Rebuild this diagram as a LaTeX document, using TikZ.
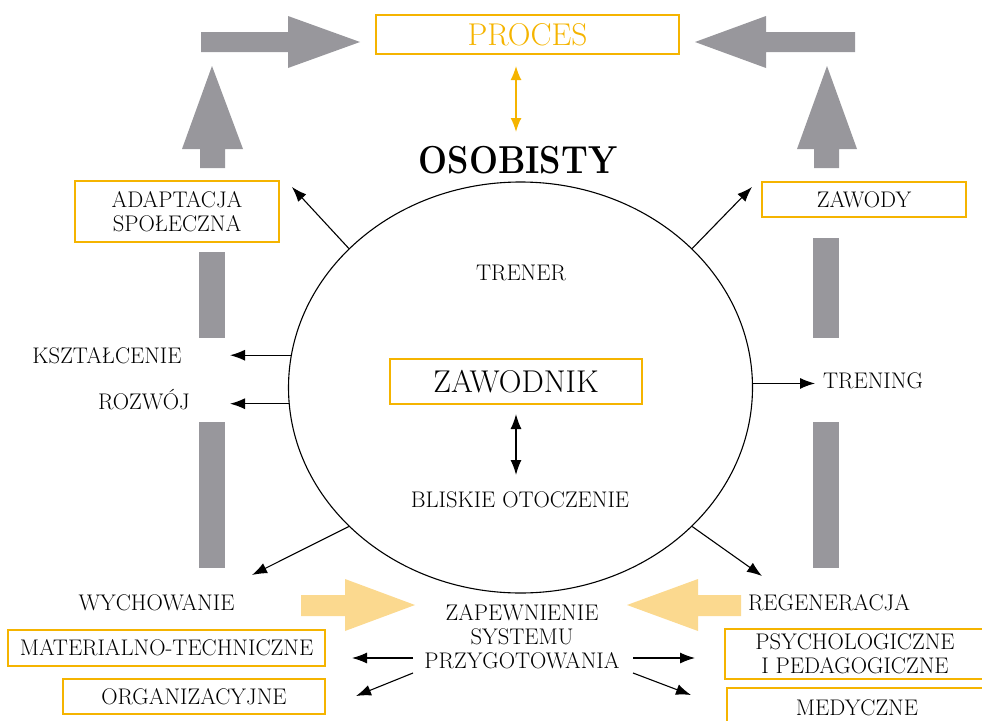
\documentclass[tikz,border=0pt]{standalone}
\usetikzlibrary{arrows.meta,shapes.geometric,positioning}
\definecolor{zolty}{HTML}{F5B400}
\definecolor{szary}{HTML}{98979C}
\definecolor{jasnyzolty}{HTML}{FBD98F}

\begin{document}
\begin{tikzpicture}[x=1pt,y=-1pt,>={Latex[length=15pt,width=11pt]},
  ramka/.style={draw=zolty,line width=1.2pt,align=center,inner sep=0pt,font=\fontsize{22.6}{24.5}\selectfont},
  napis/.style={anchor=base,align=center,font=\fontsize{22.6}{24}\selectfont},
  duzy/.style={font=\fontsize{31.5}{34}\selectfont},
  strz/.style={->,line width=1.1pt}]
\useasboundingbox (0,0) rectangle (982,720);

% wielkie strzalki
\fill[szary] (201,32) -- (288,32) -- (288,16) -- (360,42) -- (288,68) -- (288,52) -- (201,52) -- cycle;
\fill[szary] (855,32) -- (766,32) -- (766,16) -- (695,42) -- (766,68) -- (766,52) -- (855,52) -- cycle;
\fill[szary] (200,168) -- (200,149) -- (182,149) -- (212,66) -- (243,149) -- (225,149) -- (225,168) -- cycle;
\fill[szary] (814,168) -- (814,149) -- (797,149) -- (827,66) -- (857,149) -- (839,149) -- (839,168) -- cycle;
\fill[szary] (199,252) rectangle (225,338);
\fill[szary] (199,422) rectangle (225,568);
\fill[szary] (813,238) rectangle (839,338);
\fill[szary] (813,422) rectangle (839,568);
\fill[jasnyzolty] (301,595) -- (345,595) -- (345,579) -- (415,605) -- (345,631) -- (345,616) -- (301,616) -- cycle;
\fill[jasnyzolty] (741,595) -- (698,595) -- (698,579) -- (627,605) -- (698,631) -- (698,616) -- (741,616) -- cycle;

% srodek
\node[draw,ellipse,line width=1.1pt,inner sep=0pt,minimum width=464pt,minimum height=411pt] (krag) at (520.5,387.5) {};
\node[ramka,duzy,text=zolty,minimum width=303pt,minimum height=39pt] (proces) at (527.5,34.5) {PROCES};
\node[font=\fontsize{39}{44}\selectfont\bfseries,inner sep=0pt] (osobisty) at (518,160) {\scalebox{0.88}[1]{OSOBISTY}};
\node[napis] (trener) at (521,280) {TRENER};
\node[ramka,duzy,minimum width=252pt,minimum height=45pt] (zawodnik) at (516,381.5) {ZAWODNIK};
\node[napis] (otoczenie) at (520,507) {BLISKIE OTOCZENIE};

% otoczenie elipsy
\node[ramka,minimum width=204pt,minimum height=61pt] (adaptacja) at (177,211.5) {ADAPTACJA\\SPOŁECZNA};
\node[ramka,minimum width=204pt,minimum height=35pt] (zawody) at (864,199.5) {ZAWODY};
\node[napis] (ksztalcenie) at (107,363) {KSZTAŁCENIE};
\node[napis] (rozwoj) at (144,409) {ROZWÓJ};
\node[napis] (trening) at (873,388) {TRENING};
\node[napis] (wychowanie) at (156.5,610) {WYCHOWANIE};
\node[napis] (regeneracja) at (829,610) {REGENERACJA};
\node[napis] (system) at (522,668) {ZAPEWNIENIE\\SYSTEMU\\PRZYGOTOWANIA};
\node[ramka,minimum width=317pt,minimum height=36pt] (material) at (166.5,648) {MATERIALNO-TECHNICZNE};
\node[ramka,minimum width=262pt,minimum height=35pt] (organiz) at (194,696.5) {ORGANIZACYJNE};
\node[ramka,minimum width=260pt,minimum height=50pt] (psycho) at (855,654) {PSYCHOLOGICZNE\\I PEDAGOGICZNE};
\node[ramka,minimum width=260pt,minimum height=40pt] (medyczne) at (857,708) {MEDYCZNE};

% konce strzalek
\coordinate (p-gora) at (516,66);
\coordinate (p-dol) at (516,132);
\coordinate (z-gora) at (516,414);
\coordinate (z-dol) at (516,475);
\coordinate (do-adapt) at (292,187);
\coordinate (do-zawody) at (752,187);
\coordinate (do-kszt) at (230,358);
\coordinate (do-rozwoj) at (230,405);
\coordinate (do-trening) at (815,381);
\coordinate (do-wych) at (252,575);
\coordinate (do-regen) at (762,576);
\coordinate (s-lewo) at (413,658);
\coordinate (s-lewo2) at (413,673);
\coordinate (s-prawo) at (633,658);
\coordinate (s-prawo2) at (633,673);
\coordinate (do-mat) at (352,658);
\coordinate (do-org) at (356,696);
\coordinate (do-psych) at (695,658);
\coordinate (do-med) at (691,695);

\draw[<->,zolty,line width=1.6pt,>={Latex[length=14pt,width=11pt]}] (p-gora) -- (p-dol);
\draw[<->,line width=1.4pt,>={Latex[length=15pt,width=11pt]}] (z-gora) -- (z-dol);
\draw[strz] (krag.141) -- (do-adapt);
\draw[strz] (krag.39) -- (do-zawody);
\draw[strz] (krag.172.7) -- (krag.172.7 -| do-kszt);
\draw[strz] (krag.184.3) -- (krag.184.3 -| do-rozwoj);
\draw[strz] (krag.1.6) -- (krag.1.6 -| do-trening);
\draw[strz] (krag.219.2) -- (do-wych);
\draw[strz] (krag.321.7) -- (do-regen);
\draw[strz] (s-lewo) -- (do-mat);
\draw[strz] (s-lewo2) -- (do-org);
\draw[strz] (s-prawo) -- (do-psych);
\draw[strz] (s-prawo2) -- (do-med);
\end{tikzpicture}
\end{document}
